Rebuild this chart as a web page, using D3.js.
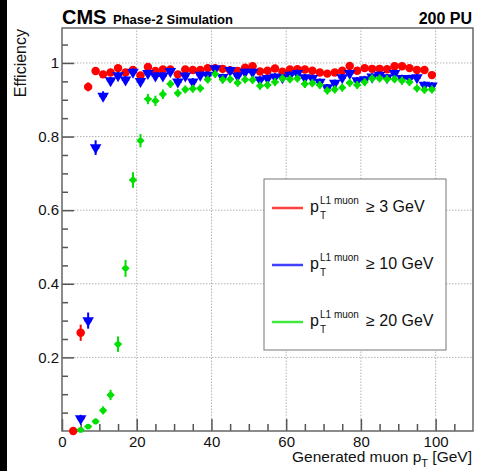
<!DOCTYPE html>
<html>
<head>
<meta charset="utf-8">
<script src="https://cdn.jsdelivr.net/npm/d3@7"></script>
<style>
  body { margin: 0; background: #fff; }
  text { font-family: "Liberation Sans", Arial, sans-serif; }
</style>
</head>
<body>
<svg id="chart" width="477" height="471"></svg>
<script>
// bin centres of generated muon pT [GeV]
const binsRed = [3, 5, 7, 9, 11, 13, 15, 17, 19, 21, 23, 25, 27, 29, 31, 33, 35, 37, 39, 41, 43, 45, 47, 49, 51,
    53, 55, 57, 59, 61, 63, 65, 67, 69, 71, 73, 75, 77, 79, 81, 83, 85, 87, 89, 91, 93, 95, 97, 99];
const binsOther = [5, 7, 9, 11, 13, 15, 17, 19, 21, 23, 25, 27, 29, 31, 33, 35, 37, 39, 41, 43, 45, 47, 49, 51,
    53, 55, 57, 59, 61, 63, 65, 67, 69, 71, 73, 75, 77, 79, 81, 83, 85, 87, 89, 91, 93, 95, 97, 99];

// efficiencies, pT(L1) >= 3 GeV
const effPt3 = [0.0, 0.267, 0.935, 0.978, 0.969, 0.974, 0.986, 0.974, 0.981, 0.966, 0.989, 0.978, 0.982, 0.982,
    0.969, 0.982, 0.981, 0.981, 0.986, 0.986, 0.984, 0.980, 0.978, 0.987, 0.991, 0.977, 0.979, 0.985, 0.976,
    0.982, 0.983, 0.982, 0.979, 0.974, 0.971, 0.974, 0.979, 0.992, 0.979, 0.986, 0.984, 0.984, 0.983, 0.991,
    0.991, 0.986, 0.981, 0.981, 0.967];
const errPt3 = [0.004, 0.022, 0.012, 0.009, 0.009, 0.009, 0.009, 0.009, 0.009, 0.009, 0.009, 0.009, 0.009, 0.009,
    0.009, 0.009, 0.009, 0.009, 0.009, 0.009, 0.009, 0.009, 0.009, 0.009, 0.009, 0.009, 0.009, 0.009, 0.009,
    0.009, 0.009, 0.009, 0.009, 0.009, 0.009, 0.009, 0.009, 0.009, 0.009, 0.009, 0.009, 0.009, 0.009, 0.009,
    0.009, 0.009, 0.009, 0.009, 0.009];

// pT(L1) >= 10 GeV
const effPt10 = [0.034, 0.300, 0.770, 0.910, 0.952, 0.966, 0.954, 0.975, 0.950, 0.972, 0.965, 0.965, 0.977,
    0.949, 0.965, 0.949, 0.967, 0.967, 0.985, 0.961, 0.980, 0.965, 0.975, 0.975, 0.954, 0.958, 0.962, 0.960,
    0.967, 0.972, 0.960, 0.958, 0.948, 0.933, 0.945, 0.960, 0.972, 0.952, 0.955, 0.962, 0.967, 0.960, 0.972,
    0.958, 0.958, 0.960, 0.940, 0.938];
const errPt10 = [0.01, 0.022, 0.02, 0.013, 0.01, 0.01, 0.01, 0.01, 0.01, 0.01, 0.01, 0.01, 0.01, 0.01, 0.01,
    0.01, 0.01, 0.01, 0.01, 0.01, 0.01, 0.01, 0.01, 0.01, 0.01, 0.01, 0.01, 0.01, 0.01, 0.01, 0.01, 0.01, 0.01,
    0.01, 0.01, 0.01, 0.01, 0.01, 0.01, 0.01, 0.01, 0.01, 0.01, 0.01, 0.01, 0.01, 0.01, 0.01];

// pT(L1) >= 20 GeV
const effPt20 = [0.003, 0.012, 0.026, 0.056, 0.098, 0.236, 0.442, 0.682, 0.789, 0.902, 0.897, 0.915, 0.943,
    0.918, 0.928, 0.930, 0.931, 0.955, 0.970, 0.955, 0.956, 0.946, 0.955, 0.954, 0.938, 0.940, 0.948, 0.958,
    0.956, 0.958, 0.943, 0.945, 0.940, 0.925, 0.928, 0.933, 0.946, 0.940, 0.948, 0.958, 0.958, 0.956, 0.956,
    0.952, 0.948, 0.931, 0.927, 0.928];
const errPt20 = [0.003, 0.006, 0.008, 0.011, 0.014, 0.021, 0.023, 0.021, 0.018, 0.014, 0.014, 0.013, 0.011,
    0.011, 0.011, 0.011, 0.011, 0.011, 0.011, 0.011, 0.011, 0.011, 0.011, 0.011, 0.011, 0.011, 0.011, 0.011,
    0.011, 0.011, 0.011, 0.011, 0.011, 0.011, 0.011, 0.011, 0.011, 0.011, 0.011, 0.011, 0.011, 0.011, 0.011,
    0.011, 0.011, 0.011, 0.011, 0.011];

const legendCuts = ['\u2265 3 GeV', '\u2265 10 GeV', '\u2265 20 GeV'];
const xMajorTicks = [0, 20, 40, 60, 80, 100];
const xTickLabels = ['0', '20', '40', '60', '80', '100'];
const xMinorTicks = [5, 10, 15, 25, 30, 35, 45, 50, 55, 65, 70, 75, 85, 90, 95, 105];
const yMajorTicks = [0.2, 0.4, 0.6, 0.8, 1.0];
const yTickLabels = ['0.2', '0.4', '0.6', '0.8', '1'];
const yMinorTicks = [0.05, 0.1, 0.15, 0.25, 0.3, 0.35, 0.45, 0.5, 0.55, 0.65, 0.7, 0.75, 0.85, 0.9, 0.95, 1.05];

const series = [
    {bins: binsRed, eff: effPt3, err: errPt3, color: '#ff0000', marker: 'circle', cut: legendCuts[0]},
    {bins: binsOther, eff: effPt10, err: errPt10, color: '#0000ff', marker: 'triangleDown', cut: legendCuts[1]},
    {bins: binsOther, eff: effPt20, err: errPt20, color: '#00e000', marker: 'dot', cut: legendCuts[2]}
];

const svg = d3.select('#chart');
const plotL = 62, plotR = 473, plotT = 28, plotB = 431;

const x = d3.scaleLinear().domain([0, 110]).range([plotL, plotR]);
const y = d3.scaleLinear().domain([0, 1.095]).range([plotB, plotT]);

svg.append('rect').attr('width', 477).attr('height', 471).attr('fill', '#fff');
// dark strip on the left edge of the original picture
svg.append('rect').attr('width', 7).attr('height', 471).attr('fill', '#000');

// dotted grid
const grid = svg.append('g').attr('stroke', '#b4b4b4').attr('stroke-dasharray', '1.5,1.5').attr('stroke-width', 1);
grid.selectAll('.gx').data(xMajorTicks.filter(d => d > 0)).join('line')
    .attr('x1', d => x(d)).attr('x2', d => x(d)).attr('y1', plotB).attr('y2', plotT);
grid.selectAll('.gy').data(yMajorTicks).join('line')
    .attr('y1', d => y(d)).attr('y2', d => y(d)).attr('x1', plotL).attr('x2', plotR);

// axes, ROOT style: ticks inside the frame
function styleAxis(g) {
    g.select('.domain').remove();
    g.selectAll('line').attr('stroke', '#555').attr('stroke-width', 1.5);
    g.selectAll('text').attr('fill', '#111').style('font-size', '15px')
        .style('font-family', '"Liberation Sans", Arial, sans-serif');
}

svg.append('g').attr('transform', `translate(0,${plotB})`)
    .call(d3.axisBottom(x).tickValues(xMajorTicks).tickSize(-12).tickSizeOuter(0).tickPadding(5)
        .tickFormat((d, i) => xTickLabels[i]))
    .call(styleAxis);
svg.append('g').attr('transform', `translate(0,${plotB})`)
    .call(d3.axisBottom(x).tickValues(xMinorTicks).tickSize(-7).tickSizeOuter(0).tickFormat(''))
    .call(styleAxis);
svg.append('g').attr('transform', `translate(${plotL},0)`)
    .call(d3.axisLeft(y).tickValues(yMajorTicks).tickSize(-12).tickSizeOuter(0).tickPadding(3)
        .tickFormat((d, i) => yTickLabels[i]))
    .call(styleAxis);
svg.append('g').attr('transform', `translate(${plotL},0)`)
    .call(d3.axisLeft(y).tickValues(yMinorTicks).tickSize(-6).tickSizeOuter(0).tickFormat(''))
    .call(styleAxis);

// frame
svg.append('rect')
    .attr('x', plotL).attr('y', plotT).attr('width', plotR - plotL).attr('height', plotB - plotT)
    .attr('fill', 'none').attr('stroke', '#666').attr('stroke-width', 1.5);

// data points with error bars
const markerPath = {
    circle: d3.symbol(d3.symbolCircle, 56)(),
    triangleDown: d3.symbol(d3.symbolTriangle, 58)(),
    dot: d3.symbol(d3.symbolCircle, 26)()
};

series.forEach(s => {
    const pts = s.bins.map((b, i) => ({b: b, v: s.eff[i], e: s.err[i]}));
    const g = svg.append('g').attr('stroke', s.color).attr('fill', s.color);
    const p = g.selectAll('g').data(pts).join('g');
    p.append('line')
        .attr('x1', d => x(d.b)).attr('x2', d => x(d.b))
        .attr('y1', d => y(Math.max(0, d.v - d.e))).attr('y2', d => y(d.v + d.e))
        .attr('stroke-width', 2);
    p.append('line')
        .attr('x1', d => x(d.b - 1)).attr('x2', d => x(d.b + 1))
        .attr('y1', d => y(d.v)).attr('y2', d => y(d.v))
        .attr('stroke-width', 2);
    p.append('path')
        .attr('d', markerPath[s.marker])
        .attr('stroke', 'none')
        .attr('transform', d => `translate(${x(d.b)},${y(d.v)})` + (s.marker === 'triangleDown' ? ' rotate(180)' : ''));
});

// legend
const legend = svg.append('g');
legend.append('rect')
    .attr('x', 264).attr('y', 179).attr('width', 182).attr('height', 171)
    .attr('fill', '#fff').attr('stroke', '#777').attr('stroke-width', 1);

series.forEach((s, i) => {
    const ly = 208 + i * 57;
    legend.append('line')
        .attr('x1', 272).attr('x2', 303).attr('y1', ly).attr('y2', ly)
        .attr('stroke', s.color).attr('stroke-width', 2.5).attr('stroke-opacity', 0.75);
    legend.append('text').attr('x', 310).attr('y', ly + 4).style('font-size', '16px').attr('fill', '#111').text('p');
    legend.append('text').attr('x', 320).attr('y', ly - 4).style('font-size', '10px').attr('fill', '#111').text('L1 muon');
    legend.append('text').attr('x', 320).attr('y', ly + 11).style('font-size', '10px').attr('fill', '#111').text('T');
    legend.append('text').attr('x', 366).attr('y', ly + 4).style('font-size', '16px').attr('fill', '#111').text(s.cut);
});

// header
svg.append('text').attr('x', 62).attr('y', 24)
    .style('font-size', '20px').style('font-weight', 'bold').attr('fill', '#000').text('CMS');
svg.append('text').attr('x', 113).attr('y', 24)
    .style('font-size', '13px').style('font-weight', 'bold').attr('fill', '#000').text('Phase-2 Simulation');
svg.append('text').attr('x', 472).attr('y', 24).attr('text-anchor', 'end')
    .style('font-size', '16px').style('font-weight', 'bold').attr('fill', '#000').text('200 PU');

// axis titles
svg.append('text')
    .attr('transform', `translate(26,${plotT + 1}) rotate(-90)`)
    .attr('text-anchor', 'end')
    .style('font-size', '16px').attr('fill', '#111').text('Efficiency');

const xt = svg.append('text').attr('x', 472).attr('y', 462).attr('text-anchor', 'end')
    .style('font-size', '15.5px').attr('fill', '#111');
xt.append('tspan').text('Generated muon p');
xt.append('tspan').attr('dy', 5).style('font-size', '11px').text('T');
xt.append('tspan').attr('dy', -5).text(' [GeV]');
</script>
</body>
</html>
